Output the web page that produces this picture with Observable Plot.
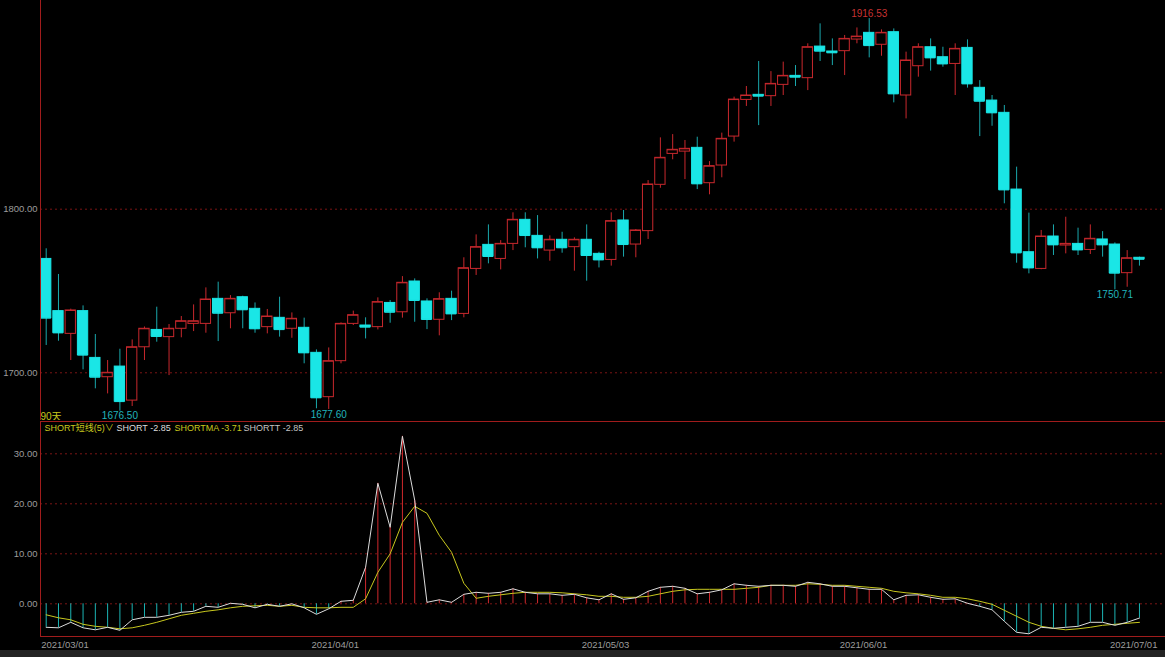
<!DOCTYPE html>
<html>
<head>
<meta charset="utf-8">
<script src="https://cdn.jsdelivr.net/npm/d3@7"></script>
<script src="https://cdn.jsdelivr.net/npm/@observablehq/plot@0.6"></script>
<style>
  html, body { margin: 0; padding: 0; background: #000; }
  #wrap { width: 1165px; height: 657px; overflow: hidden; background: #000; position: relative; }
  #strip { width: 1165px; height: 7px; background: #232323; }
  svg { display: block; }
</style>
</head>
<body>
<div id="wrap">
  <div id="upper"></div>
  <div id="lower"></div>
  <div id="strip"></div>
</div>
<script>
// ---------- DATA ----------
const open  = [1769.6,1737.7,1723.8,1737.7,1709.1,1697.3,1703.8,1683.0,1715.6,1726.2,
               1721.8,1726.9,1729.9,1729.9,1745.2,1736.4,1746.2,1739.1,1727.9,1733.6,
               1726.9,1727.5,1712.2,1685.1,1707.1,1729.9,1728.9,1727.9,1742.7,1737.0,
               1755.8,1743.6,1732.4,1745.2,1736.0,1763.5,1778.2,1769.6,1778.8,1793.5,
               1783.7,1774.7,1781.3,1776.8,1781.3,1772.7,1769.0,1793.1,1778.4,1786.6,
               1814.9,1833.8,1835.2,1837.5,1815.9,1826.7,1844.4,1866.8,1869.9,1869.1,
               1876.0,1881.5,1880.1,1899.4,1896.4,1896.6,1903.7,1907.8,1900.5,1908.2,
               1869.5,1887.4,1899.0,1892.9,1888.8,1898.6,1874.2,1866.4,1858.9,1812.0,
               1773.7,1763.5,1783.3,1777.8,1778.8,1775.1,1781.5,1778.4,1760.9,1770.3];
const high  = [1775.8,1760.1,1738.9,1740.9,1723.4,1707.5,1714.4,1720.1,1728.0,1740.1,
               1729.5,1734.4,1741.5,1751.9,1755.4,1747.2,1746.8,1742.7,1738.7,1746.2,
               1736.6,1733.4,1714.0,1715.2,1730.5,1737.7,1733.6,1745.8,1744.2,1758.8,
               1757.4,1745.2,1748.9,1749.9,1770.3,1784.3,1790.4,1780.8,1797.8,1797.8,
               1796.1,1783.7,1785.9,1782.5,1790.4,1773.7,1797.8,1799.2,1787.6,1817.5,
               1843.6,1845.6,1842.0,1844.0,1829.1,1846.5,1868.5,1875.0,1890.3,1884.1,
               1889.9,1887.8,1901.1,1913.3,1904.1,1906.2,1910.8,1916.53,1909.6,1910.2,
               1896.0,1901.1,1904.1,1899.0,1901.1,1903.5,1878.6,1869.5,1863.4,1825.7,
               1797.6,1787.0,1790.4,1795.1,1788.4,1790.4,1786.3,1779.4,1774.7,1770.7];
const low   = [1716.7,1719.3,1707.5,1701.8,1690.2,1687.1,1676.5,1679.4,1707.5,1718.7,
               1698.3,1721.4,1725.2,1724.2,1719.1,1726.9,1726.9,1724.2,1723.8,1721.8,
               1721.1,1705.5,1678.0,1677.6,1705.5,1728.9,1720.7,1726.2,1730.3,1733.4,
               1730.9,1726.4,1722.6,1731.9,1733.6,1759.5,1766.6,1762.9,1774.7,1776.4,
               1769.6,1768.2,1773.1,1762.1,1756.0,1764.1,1765.2,1770.7,1770.3,1781.5,
               1812.8,1830.2,1818.1,1812.0,1808.8,1819.2,1841.0,1862.8,1851.1,1862.8,
               1869.5,1875.0,1872.5,1890.3,1887.8,1881.7,1901.1,1892.5,1893.5,1865.0,
               1855.2,1880.7,1884.4,1886.8,1869.5,1874.0,1844.4,1850.7,1803.3,1767.0,
               1760.5,1763.0,1771.7,1772.7,1771.7,1772.3,1770.7,1750.71,1752.3,1765.2];
const close = [1733.4,1724.4,1738.1,1710.8,1697.3,1700.0,1682.4,1715.6,1726.9,1722.2,
               1726.9,1731.5,1731.5,1744.8,1736.4,1745.2,1738.5,1726.9,1734.4,1726.4,
               1733.0,1712.2,1684.7,1707.1,1729.9,1735.2,1727.9,1743.2,1737.0,1755.0,
               1744.2,1732.6,1745.0,1736.0,1763.9,1776.8,1771.1,1778.8,1793.5,1783.9,
               1776.4,1781.3,1776.4,1781.3,1771.7,1769.0,1792.7,1778.4,1787.0,1815.1,
               1831.4,1836.3,1836.9,1815.5,1826.3,1843.0,1867.0,1869.5,1869.1,1876.6,
               1881.5,1880.7,1899.0,1896.6,1895.6,1904.1,1905.5,1900.0,1907.8,1870.5,
               1890.9,1899.0,1892.5,1888.8,1898.0,1876.6,1866.0,1858.9,1811.8,1773.3,
               1764.1,1783.3,1778.2,1778.8,1775.1,1781.9,1778.2,1760.9,1770.0,1769.4];

// SHORT (white line, also drawn as bars = SHORTT) and SHORTMA (yellow line)
const shortVals = [-4.7,-4.8,-3.7,-4.8,-5.2,-4.7,-5.3,-3.2,-2.7,-2.7,
                   -2.3,-1.7,-1.5,-0.5,-0.7,0.1,-0.1,-0.8,-0.1,-0.5,
                   0.0,-0.8,-2.1,-1.0,0.5,0.7,7.3,24.1,15.3,33.5,
                   20.7,0.3,0.8,0.3,1.9,2.3,2.1,2.3,3.0,2.3,
                   2.0,2.0,1.7,1.9,1.2,0.8,2.0,0.9,1.2,2.5,
                   3.3,3.5,3.1,2.0,2.3,2.8,4.0,3.7,3.5,3.7,
                   3.7,3.5,4.3,4.0,3.5,3.5,3.2,2.9,2.9,0.8,
                   1.7,1.8,1.3,0.9,1.0,0.1,-0.5,-1.2,-3.5,-5.7,
                   -6.0,-4.7,-4.9,-4.7,-4.5,-3.7,-3.7,-4.3,-3.7,-2.85];
const shortMA   = [-2.2,-2.8,-3.2,-4.1,-4.5,-4.7,-5.0,-4.8,-4.3,-3.7,
                   -3.0,-2.3,-1.9,-1.5,-1.2,-0.8,-0.5,-0.4,-0.3,-0.5,
                   -0.3,-0.7,-0.8,-0.8,-0.7,-0.7,1.0,6.3,10.0,16.3,
                   19.5,18.1,13.7,10.3,4.1,1.1,1.5,1.8,2.1,2.3,
                   2.3,2.3,2.2,2.0,1.8,1.5,1.5,1.3,1.3,1.5,
                   2.0,2.5,2.8,2.9,2.9,2.9,2.9,3.1,3.3,3.7,
                   3.7,3.7,4.0,3.9,3.7,3.7,3.5,3.3,3.1,2.5,
                   2.2,2.0,1.7,1.3,1.3,1.0,0.5,-0.1,-1.3,-2.5,
                   -3.7,-4.5,-4.9,-5.2,-5.0,-4.7,-4.3,-4.1,-3.9,-3.71];

const dateIdx    = [0, 22, 44, 65, 87];
const dateLabels = ["2021/03/01", "2021/04/01", "2021/05/03", "2021/06/01", "2021/07/01"];
const priceTicks = [1700, 1800];
const indTicks   = [0, 10, 20, 30];
const extremeIdx    = [67, 6, 23, 87];
const extremeLabels = ["1916.53", "1676.50", "1677.60", "1750.71"];
const extremeSide   = ["high", "low", "low", "low"];
const periodLabel = "90天";
const legendTexts = ["SHORT短线(5)∨", "SHORT -2.85", "SHORTMA -3.71", "SHORTT -2.85"];

// ---------- STYLE ----------
const CYAN = "#1ae6e6", CYAN_DARK = "#1aa8ac", RED = "#c8282d", GRID = "#7a1414",
      BORDER = "#a01c1c", TICK = "#9c9c9c", YEL = "#c8c81e", WHITE = "#dcdcdc";
const FONT = "'Liberation Sans', 'Noto Sans CJK SC', sans-serif";

const candles = open.map((o, i) => ({i, o, h: high[i], l: low[i], c: close[i], up: close[i] > open[i]}));
const ups = candles.filter(d => d.up), downs = candles.filter(d => !d.up);
const HW = 0.42;
const xDomain = [-0.464, 91.12];
const yDomainTop = [1670.84, 1927.57];
const yDomainBot = [-6.54, 36.46];

const ext = extremeIdx.map((i, k) => ({i, label: extremeLabels[k], side: extremeSide[k],
  v: extremeSide[k] === "high" ? high[i] : low[i]}));

const upper = Plot.plot({
  width: 1165, height: 420,
  marginLeft: 40, marginRight: 0, marginTop: 0, marginBottom: 0,
  style: {background: "#000", color: TICK, fontFamily: FONT, fontSize: "10px"},
  x: {domain: xDomain, axis: null},
  y: {domain: yDomainTop, axis: null},
  marks: [
    Plot.ruleY(priceTicks, {y: d => d, stroke: GRID, strokeDasharray: "2,3"}),
    Plot.text(priceTicks, {y: d => d, text: d => d.toFixed(2), frameAnchor: "left", textAnchor: "end", dx: -3, fill: TICK, fontSize: 9.5}),
    // wicks
    Plot.ruleX(ups, {x: "i", y1: "l", y2: "h", stroke: RED}),
    Plot.ruleX(downs, {x: "i", y1: "l", y2: "h", stroke: CYAN_DARK}),
    // bodies
    Plot.rect(ups, {x1: d => d.i - HW, x2: d => d.i + HW, y1: "o", y2: "c", fill: "#000", stroke: RED, strokeWidth: 1}),
    Plot.rect(downs, {x1: d => d.i - HW, x2: d => d.i + HW, y1: "c", y2: "o", fill: CYAN, stroke: CYAN}),
    Plot.ruleY(ups, {y: "c", x1: d => d.i - HW, x2: d => d.i + HW, stroke: RED}),
    Plot.ruleY(downs, {y: "c", x1: d => d.i - HW, x2: d => d.i + HW, stroke: CYAN}),
    // extreme labels
    Plot.text(ext.filter(d => d.side === "high"), {x: "i", y: "v", text: "label", lineAnchor: "bottom", dy: -2, fill: "#c83232", fontSize: 10}),
    Plot.text(ext.filter(d => d.side === "low"), {x: "i", y: "v", text: "label", lineAnchor: "top", dy: 1, fill: "#20b4bc", fontSize: 10}),
    Plot.text([periodLabel], {text: d => d, frameAnchor: "bottom-left", textAnchor: "start", lineAnchor: "bottom", dy: -1, fill: YEL, fontSize: 10}),
    Plot.ruleX([xDomain[0]], {stroke: BORDER})
  ]
});
document.getElementById("upper").appendChild(upper);

const ind = shortVals.map((v, i) => ({i, v, ma: shortMA[i]}));
const legendOffsets = [4, 76, 134, 203];
const legendColors = [YEL, WHITE, YEL, "#c4c4c4"];

const lower = Plot.plot({
  width: 1165, height: 230,
  marginLeft: 40, marginRight: 0, marginTop: 1, marginBottom: 14,
  style: {background: "#000", color: TICK, fontFamily: FONT, fontSize: "10px"},
  x: {domain: xDomain, axis: null},
  y: {domain: yDomainBot, axis: null},
  marks: [
    Plot.ruleY(indTicks, {y: d => d, stroke: GRID, strokeDasharray: "2,3"}),
    Plot.text(indTicks, {y: d => d, text: d => d.toFixed(2), frameAnchor: "left", textAnchor: "end", dx: -3, fill: TICK, fontSize: 9.5}),
    Plot.ruleX(ind.filter(d => d.v > 0), {x: "i", y1: 0, y2: "v", stroke: "#d0282c"}),
    Plot.ruleX(ind.filter(d => d.v < 0), {x: "i", y1: 0, y2: "v", stroke: "#1cb4b4"}),
    Plot.line(ind, {x: "i", y: "ma", stroke: YEL, strokeWidth: 1}),
    Plot.line(ind, {x: "i", y: "v", stroke: WHITE, strokeWidth: 1}),
    Plot.text(dateIdx.map((i, k) => ({i, label: dateLabels[k]})), {x: "i", text: "label", frameAnchor: "bottom", textAnchor: "start", lineAnchor: "middle", dx: -5, dy: 8, fill: TICK, fontSize: 9.5}),
    ...legendTexts.map((t, k) => Plot.text([t], {text: d => d, frameAnchor: "top-left", textAnchor: "start", lineAnchor: "middle", dx: legendOffsets[k], dy: 7, fill: legendColors[k], fontSize: 9})),
    Plot.ruleY([yDomainBot[1]], {stroke: BORDER}),
    Plot.ruleY([yDomainBot[0]], {stroke: BORDER}),
    Plot.ruleX([xDomain[0]], {stroke: BORDER})
  ]
});
document.getElementById("lower").appendChild(lower);
</script>
</body>
</html>
